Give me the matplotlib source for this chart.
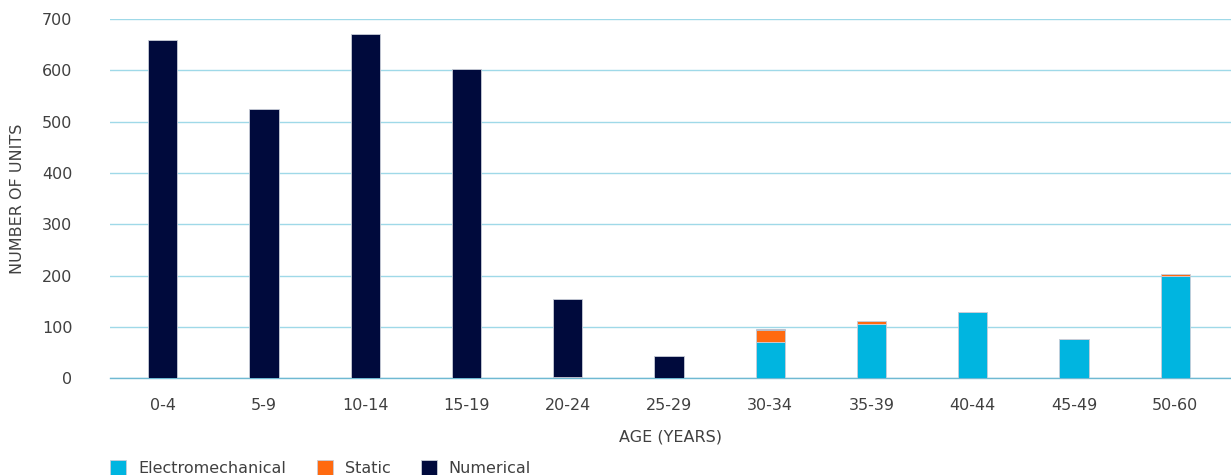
import matplotlib
matplotlib.use("Agg")
import matplotlib.pyplot as plt
import numpy as np

age_groups = ["0-4", "5-9", "10-14", "15-19", "20-24", "25-29",
              "30-34", "35-39", "40-44", "45-49", "50-60"]
electromechanical = [0, 0, 0, 0, 3, 0, 71, 106, 128, 77, 200]
static = [0, 0, 0, 0, 0, 0, 23, 5, 0, 0, 3]
numerical = [660, 525, 670, 602, 151, 43, 1, 0, 0, 0, 0]

c_elec = "#00B5E0"
c_static = "#FF6A10"
c_num = "#000A3C"
text_c = "#404040"

plt.rcParams["font.family"] = ["DejaVu Sans"]
fs = 11.5

fig = plt.figure(figsize=(12.31, 4.75), dpi=100)
ax = fig.add_axes([0.0894, 0.204, 0.9106, 0.756])

x = np.arange(len(age_groups))
w = 0.29
e = np.array(electromechanical)
s = np.array(static)
n = np.array(numerical)
edge = dict(edgecolor="#c9cdd8", linewidth=0.6)
ax.bar(x, e, w, color=c_elec, label="Electromechanical", zorder=3, **edge)
ax.bar(x, s, w, bottom=e, color=c_static, label="Static", zorder=3, **edge)
ax.bar(x, n, w, bottom=e + s, color=c_num, label="Numerical", zorder=3, **edge)

ax.set_ylim(0, 700)
ax.set_xlim(-0.52, 10.55)
ax.set_yticks(range(0, 701, 100))
ax.set_xticks(x)
ax.set_xticklabels(age_groups)
ax.yaxis.grid(True, color="#9fd9e8", linewidth=1.0, zorder=0)
ax.set_axisbelow(True)
for sp in ["top", "right", "left"]:
    ax.spines[sp].set_visible(False)
ax.spines["bottom"].set_color("#6fb9d2")
ax.spines["bottom"].set_linewidth(1.0)
ax.tick_params(axis="both", length=0, labelsize=fs, colors=text_c)
ax.tick_params(axis="y", pad=27)
ax.tick_params(axis="x", pad=14)

ax.set_ylabel("NUMBER OF UNITS", fontsize=fs, color=text_c)
ax.yaxis.set_label_coords(-0.0755, 0.5)
ax.set_xlabel("AGE (YEARS)", fontsize=fs, color=text_c, labelpad=12)

leg = fig.legend(loc="lower left", bbox_to_anchor=(0.078, -0.032), ncol=3,
                 frameon=False, fontsize=fs, handlelength=1.0, handleheight=1.0,
                 columnspacing=1.9, handletextpad=0.75)
for t in leg.get_texts():
    t.set_color(text_c)

fig.savefig("out.png", dpi=100)
